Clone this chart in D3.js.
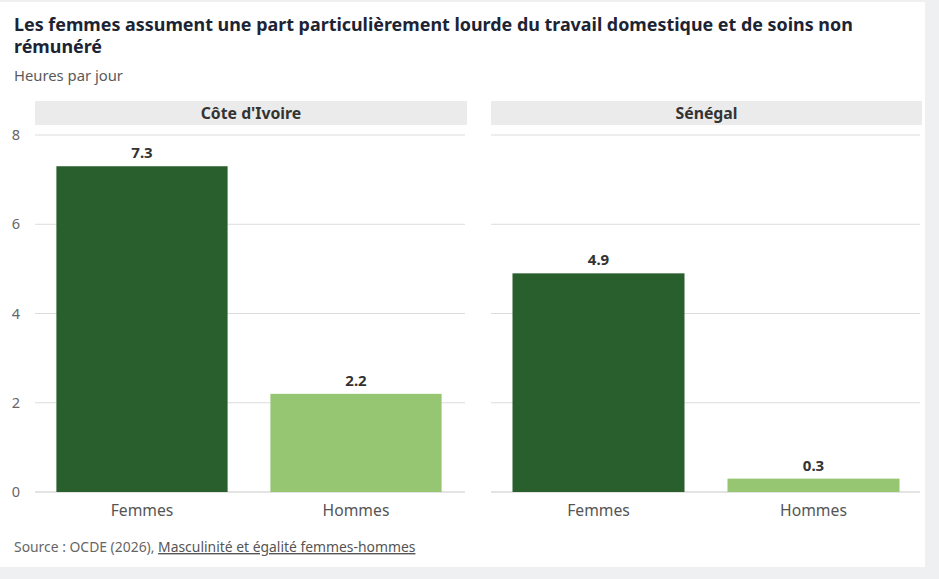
<!DOCTYPE html>
<html><head><meta charset="utf-8">
<script src="https://cdn.jsdelivr.net/npm/d3@7"></script>
<style>
html,body{margin:0;padding:0;background:#eef0f1;}
svg{display:block;font-family:"Noto Sans","Open Sans",sans-serif;}
</style></head>
<body>
<svg id="c" width="939" height="579"></svg>
<script>
const titleLines = ["Les femmes assument une part particulièrement lourde du travail domestique et de soins non", "rémunéré"];
const subtitle = "Heures par jour";
const countries = ["Côte d'Ivoire", "Sénégal"];
const categories = ["Femmes", "Hommes"];
const valuesCI = [7.3, 2.2];
const valuesSN = [4.9, 0.3];
const yTicks = [0, 2, 4, 6, 8];
const colors = ["#295f2d", "#97c672"];
const sourcePrefix = "Source : OCDE (2026), ";
const sourceLink = "Masculinité et égalité femmes-hommes";

const seriesByCountry = [valuesCI, valuesSN];
const svg = d3.select("#c");
// card
svg.append("rect").attr("x",0).attr("y",2).attr("width",925).attr("height",565).attr("fill","#fff");

svg.append("g").selectAll("text").data(titleLines).join("text")
  .attr("x",14).attr("y",(d,i)=>31+i*21.5)
  .attr("font-size",17.9).attr("font-weight",700).attr("fill","#1c2434").text(d=>d);
svg.append("text").attr("x",14).attr("y",80.5).attr("font-size",14.8).attr("fill","#5a5a5a").text(subtitle);

const y = d3.scaleLinear().domain([0,8]).range([492,135]);
const panels = [{x0:35,x1:467,r0:35,r1:463},{x0:491,x1:922,r0:491,r1:921}];

// y-axis labels
svg.append("g").selectAll("text").data(yTicks).join("text")
  .attr("x",16).attr("y",d=>y(d)+5).attr("text-anchor","middle")
  .attr("font-size",14.5).attr("fill","#666").text(d=>d);

panels.forEach((p,pi)=>{
  const g = svg.append("g");
  g.append("rect").attr("x",p.x0).attr("y",101).attr("width",p.x1-p.x0).attr("height",24).attr("fill","#ebebeb");
  g.append("text").attr("x",(p.x0+p.x1)/2).attr("y",118.5).attr("text-anchor","middle")
    .attr("font-size",15.8).attr("font-weight",700).attr("fill","#333").text(countries[pi]);
  g.selectAll("line.grid").data(yTicks).join("line").attr("class","grid")
    .attr("x1",p.x0).attr("x2",p.x1-2).attr("y1",d=>y(d)).attr("y2",d=>y(d))
    .attr("stroke",(d)=>d===0?"#c8c8c8":"#dcdcdc").attr("stroke-width",1);
  const x = d3.scaleBand().domain(categories).range([p.r0,p.r1]).paddingInner(0.2).paddingOuter(0.1);
  const data = categories.map((c,i)=>({c, v:seriesByCountry[pi][i], i}));
  g.selectAll("rect.bar").data(data).join("rect").attr("class","bar")
    .attr("x",d=>x(d.c)).attr("width",x.bandwidth())
    .attr("y",d=>y(d.v)).attr("height",d=>y(0)-y(d.v)).attr("fill",d=>colors[d.i]);
  g.selectAll("text.val").data(data).join("text").attr("class","val")
    .attr("x",d=>x(d.c)+x.bandwidth()/2).attr("y",d=>y(d.v)-8).attr("text-anchor","middle")
    .attr("font-size",15).attr("font-weight",700).attr("fill","#333").text(d=>d.v.toFixed(1));
  g.selectAll("text.cat").data(data).join("text").attr("class","cat")
    .attr("x",d=>x(d.c)+x.bandwidth()/2).attr("y",515.5).attr("text-anchor","middle")
    .attr("font-size",15.7).attr("fill","#555").text(d=>d.c);
});

const src = svg.append("text").attr("x",14).attr("y",552).attr("font-size",13.9).attr("fill","#666");
src.append("tspan").text(sourcePrefix);
src.append("tspan").attr("text-decoration","underline").attr("fill","#555").text(sourceLink);
</script>
</body></html>
